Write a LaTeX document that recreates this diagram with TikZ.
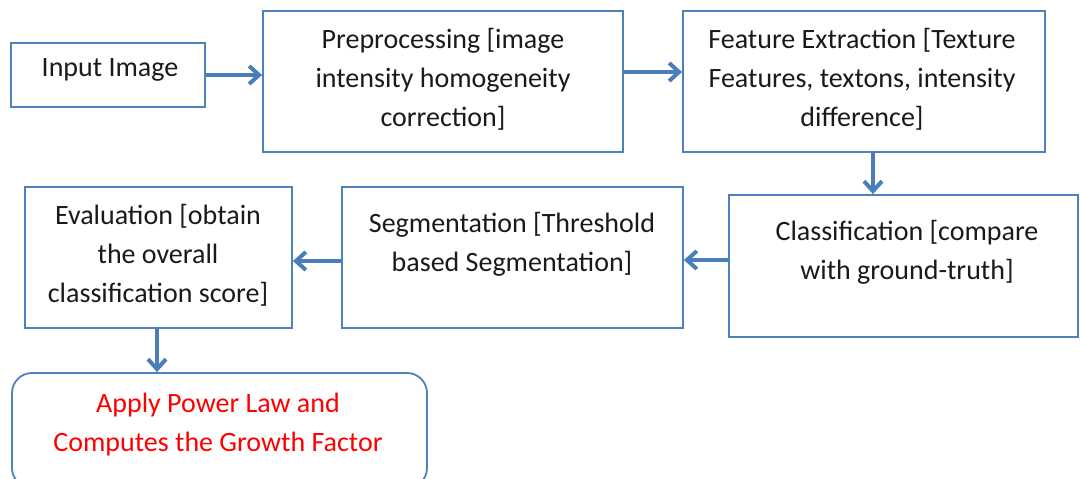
\documentclass[tikz,border=0pt]{standalone}
\usepackage{fontspec}
\setmainfont{Carlito}
\usetikzlibrary{arrows.meta}
\definecolor{boxblue}{HTML}{4F81BD}
\definecolor{arrblue}{HTML}{4A7EBB}
\definecolor{txtgray}{HTML}{1A1A1A}
\definecolor{txtred}{HTML}{FF0000}
\begin{document}
\begin{tikzpicture}[x=1pt,y=-1pt,
  box/.style={draw=boxblue, line width=1.8pt, rectangle, inner sep=0pt},
  roundbox/.style={box, rounded corners=20pt},
  txt/.style={font=\fontsize{28}{39}\selectfont, text=txtgray, align=center, inner sep=0pt},
  redtxt/.style={txt, text=txtred},
  arr/.style={draw=arrblue, line width=4pt, -{Straight Barb[length=10pt,width=18pt,line width=4pt]}}]
\clip (0,0) rectangle (1080,479);
\fill[white] (0,0) rectangle (1080,479);
% boxes
\node[box, minimum width=194pt, minimum height=64pt] (inp) at (108,75) {};
\node[box, minimum width=360pt, minimum height=141pt] (pre) at (443,81.5) {};
\node[box, minimum width=362pt, minimum height=141pt] (fea) at (864,81.5) {};
\node[box, minimum width=349pt, minimum height=142pt] (cls) at (903.5,266) {};
\node[box, minimum width=341pt, minimum height=141pt] (seg) at (512.5,257.5) {};
\node[box, minimum width=267pt, minimum height=141pt] (eva) at (158.5,257.5) {};
\node[roundbox, minimum width=415pt, minimum height=115pt] (app) at (219.5,430.5) {};
% texts
\node[txt] (inpT) at (110,70) {Input Image};
\node[txt] (preT) at (443,79) {Preprocessing [image\\intensity homogeneity\\correction]};
\node[txt] (feaT) at (862,79) {Feature Extraction [Texture\\Features, textons, intensity\\difference]};
\node[txt] (clsT) at (907,252) {Classification [compare\\with ground-truth]};
\node[txt] (segT) at (512,244) {Segmentation [Threshold\\based Segmentation]};
\node[txt] (evaT) at (158,255) {Evaluation [obtain\\the overall\\classification score]};
\node[redtxt] (appT) at (218,425) {Apply Power Law and\\Computes the Growth Factor};
% connectors
\draw[arr] (inp.east) -- (inp.east -| pre.west);
\draw[arr] ([yshift=9.5pt]pre.east) -- ([yshift=9.5pt]fea.west);
\draw[arr] ([xshift=9pt]fea.south) -- ([xshift=9pt]fea.south |- cls.north);
\draw[arr] ([yshift=6pt]cls.west) -- ([yshift=6pt]cls.west -| seg.east);
\draw[arr] ([yshift=-3.5pt]seg.west) -- ([yshift=-3.5pt]seg.west -| eva.east);
\draw[arr] ([xshift=-1.5pt]eva.south) -- ([xshift=-1.5pt]eva.south |- app.north);
\end{tikzpicture}
\end{document}
